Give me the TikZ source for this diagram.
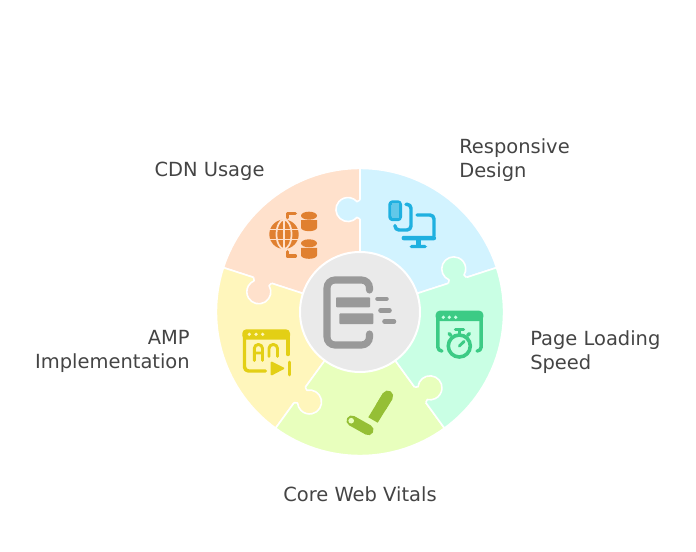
\documentclass[tikz,border=0pt]{standalone}
\usepackage{fontspec}
\setmainfont{DejaVu Sans}
\definecolor{wheelblue}{HTML}{D2F3FF}
\definecolor{wheelorange}{HTML}{FFE1CC}
\definecolor{wheelyellow}{HTML}{FFF6BC}
\definecolor{wheellime}{HTML}{E8FFBD}
\definecolor{wheelmint}{HTML}{C9FFE4}
\definecolor{hubgray}{HTML}{EAEAEA}
\definecolor{icongray}{HTML}{999999}
\definecolor{iconblue}{HTML}{1FB0E0}
\definecolor{iconorange}{HTML}{E08030}
\definecolor{iconyellow}{HTML}{E3CF15}
\definecolor{iconlime}{HTML}{95BF35}
\definecolor{iconmint}{HTML}{3CCB85}
\definecolor{labelgray}{HTML}{444444}
\tikzset{
  label text/.style={font=\fontsize{14.6}{18}\selectfont, text=labelgray, inner sep=0pt, align=left},
  icon line/.style={line width=2.6pt, line cap=round, line join=round},
}

\begin{document}
\begin{tikzpicture}[x=0.75pt, y=-0.75pt]
  \useasboundingbox (0,0) rectangle (696,552);

  % Puzzle wheel
  \begin{scope}[shift={(360,312)}, y=0.75pt]
    \foreach \ang/\col in {90/wheelblue, 162/wheelorange, 234/wheelyellow, 306/wheellime, 18/wheelmint} {
      \fill[\col, draw=white, line width=1.2pt] (0,0) -- (\ang:143.6) arc[start angle=\ang, delta angle=-72, radius=143.6] -- cycle;
    }
    % Knobs
    \foreach \ang/\col in {90/wheelblue, 162/wheelorange, 234/wheelyellow, 306/wheellime, 18/wheelmint} {
      \begin{scope}[rotate=\ang]
        \fill[\col] (93,-2) -- (93,0) -- (94.6,3) arc[start angle=229, end angle=-49, radius=12] -- (112,0) -- (112,-2) -- cycle;
        \draw[white, line width=1.2pt, line join=round] (93,0) -- (94.6,3) arc[start angle=229, end angle=-49, radius=12] -- (112,0);
      \end{scope}
    }
  \end{scope}
  \node[circle, fill=hubgray, draw=white, line width=1.5pt, minimum size=90pt, inner sep=0pt] (hub) at (360,312) {};

  % Center icon
  \draw[icongray, line width=5.3pt, line cap=round, rounded corners=6pt] (369.5,290) -- (369.5,280) -- (327,280) -- (327,345) -- (369.5,345) -- (369.5,334);
  \fill[icongray, rounded corners=0.6pt] (336,297.3) rectangle (370,307.3);
  \fill[icongray, rounded corners=0.6pt] (339.3,313.5) rectangle (373.3,324);
  \foreach \xa/\xb/\yy in {377.5/386.5/299, 380.5/389.5/310.5, 384.5/394/321.5} {
    \draw[icongray, line width=3.4pt, line cap=round] (\xa,\yy) -- (\xb,\yy);
  }

  % CDN icon
  \fill[iconorange] (284,234.3) circle[radius=14.7];
  \draw[wheelorange, line width=1.3pt] (284,219.6) -- (284,249) (270,229.5) -- (298,229.5) (270,239.5) -- (298,239.5);
  \draw[wheelorange, line width=1.3pt] (284,234.3) ellipse[x radius=7.5, y radius=14.7];
  \draw[iconorange, icon line] (287.3,217.7) -- (287.3,213.5) -- (295.3,213.5);
  \draw[iconorange, icon line] (287.3,251.7) -- (287.3,256) -- (295.3,256);
  \foreach \yy in {211.7,239.3} {
    \fill[iconorange] (309,\yy+4) ellipse[x radius=8, y radius=4];
    \fill[iconorange] (301,\yy+8.5) -- (317,\yy+8.5) -- (317,\yy+16) arc[start angle=0, end angle=180, x radius=8, y radius=3.5] -- cycle;
  }

  % Responsive icon
  \draw[iconblue, icon line, rounded corners=2pt] (390,202) rectangle (400.3,219.5);
  \fill[iconblue!70!white] (391.5,203.5) rectangle (398.8,218);
  \draw[iconblue, icon line, rounded corners=3pt] (406,204.3) -- (411,204.3) -- (411,230) -- (395,230) -- (395,225.5);
  \draw[iconblue, icon line, rounded corners=3pt] (417,215) -- (434,215) -- (434,236);
  \fill[iconblue, rounded corners=1.5pt] (401.7,235.8) rectangle (436,240.3);
  \fill[iconblue] (416,240) rectangle (420.7,246);
  \fill[iconblue, rounded corners=1.4pt] (409.5,245) rectangle (427,248.2);

  % Page speed icon
  \fill[iconmint, rounded corners=3pt] (435.7,310.7) rectangle (483.3,321);
  \foreach \xx in {443.3,449.3,455.7} {
    \fill[wheelmint] (\xx,317.3) circle[radius=1.8];
  }
  \draw[iconmint, icon line, rounded corners=3pt] (437.8,318) -- (437.8,351) -- (442,351);
  \draw[iconmint, icon line, rounded corners=3pt] (481.2,318) -- (481.2,351) -- (477,351);
  \draw[iconmint, line width=2.7pt] (459.3,346) circle[radius=11];
  \draw[iconmint, icon line] (455.5,329.5) -- (463.5,329.5) (459.3,330) -- (459.3,334);
  \draw[iconmint, icon line] (449,333.5) -- (451,335.5) (469.5,333.5) -- (467.5,335.5);
  \draw[iconmint, line width=2.2pt, line cap=round] (459.3,346) -- (464,341.5);

  % Core vitals icon
  \draw[iconlime, line width=8.25pt, line cap=round] (387.7,396) -- (381,407);
  \fill[iconlime] (383,393.1) -- (392.4,398.9) -- (377.7,422.7) -- (368.3,417.3) -- cycle;
  \draw[iconlime, line width=7.9pt, line cap=round] (351.7,420.7) -- (368.3,430);
  \fill[wheellime] (351.2,420.7) circle[radius=2.8];

  % AMP icon
  \fill[iconyellow, rounded corners=3pt] (242.3,329.3) rectangle (290,339.6);
  \foreach \xx in {249.3,256,262.7} {
    \fill[wheelyellow] (\xx,334.3) circle[radius=1.8];
  }
  \draw[iconyellow, icon line, rounded corners=3pt] (244.5,335) -- (244.5,371) -- (265.5,371);
  \draw[iconyellow, icon line] (288,335) -- (288,354.5);
  \draw[iconyellow, line width=2.2pt, line cap=round, line join=round, rounded corners=3pt] (254.3,360.5) -- (254.3,344.5) -- (262.5,344.5) -- (262.5,360.5) (254.3,353) -- (262.5,353);
  \draw[iconyellow, line width=2.2pt, line cap=round, line join=round, rounded corners=3pt] (269,356.5) -- (269,344.5) -- (277.5,344.5) -- (277.5,356.5);
  \fill[iconyellow, rounded corners=1pt] (270.7,361) -- (285.3,368.3) -- (270.7,376) -- cycle;
  \draw[iconyellow, line width=2.2pt, line cap=round] (289.3,362) -- (289.3,375);

  % Labels
  \node[label text] (cdnlabel) at (209.5,171) {CDN Usage};
  \node[label text, anchor=west] (responsivelabel) at (459,160) {Responsive\\Design};
  \node[label text, anchor=west] (speedlabel) at (530,352) {Page Loading\\Speed};
  \node[label text, anchor=east, align=right] (amplabel) at (190,351) {AMP\\Implementation};
  \node[label text] (vitalslabel) at (360,494) {Core Web Vitals};
\end{tikzpicture}
\end{document}
